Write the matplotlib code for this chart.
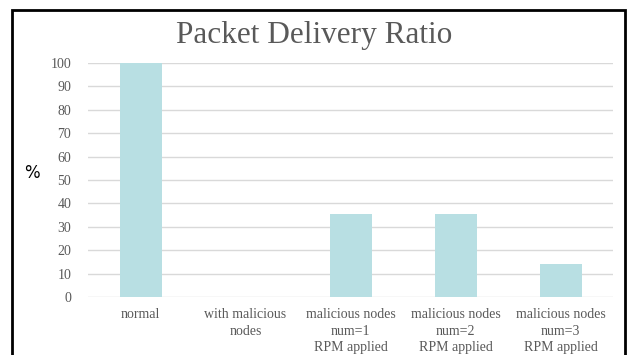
import matplotlib.pyplot as plt
from matplotlib.patches import Rectangle

# data
categories = ['normal', 'with malicious\nnodes', 'malicious nodes\nnum=1\nRPM applied',
              'malicious nodes\nnum=2\nRPM applied', 'malicious nodes\nnum=3\nRPM applied']
pdr = [100, 0, 35.5, 35.5, 14]
yticks = list(range(0, 101, 10))

W, H = 628, 355
fig = plt.figure(figsize=(W / 100, H / 100), dpi=100)
ax = fig.add_axes([88 / W, 1 - 297 / H, 525 / W, 234 / H])

# bars
ax.bar(range(len(pdr)), pdr, width=0.4, color='#b8dfe3', zorder=2)
ax.set_xlim(-0.5, len(pdr) - 0.5)
ax.set_ylim(0, 100)
ax.set_yticks(yticks)
ax.set_xticks(range(len(categories)))
ax.set_xticklabels(categories, family='Liberation Serif', fontsize=10, color='#595959',
                   linespacing=1.35)
for lab in ax.get_yticklabels():
    lab.set_family('Liberation Serif')
    lab.set_fontsize(10)
    lab.set_color('#595959')
ax.tick_params(length=0, pad=12)
ax.tick_params(axis='x', pad=8)
ax.grid(axis='y', color='#d9d9d9', linewidth=1, zorder=0)
for s in ax.spines.values():
    s.set_visible(False)

fig.text(0.5, 1 - 35 / H, 'Packet Delivery Ratio', ha='center', va='center',
         family='Liberation Serif', fontsize=22.5, color='#595959')
fig.text(32 / W, 1 - 173 / H, '%', ha='center', va='center', fontsize=12, color='black')

# outer frame
fig.patches.append(Rectangle((12 / W, -0.05), 613 / W, 1.05 - 10 / H, transform=fig.transFigure,
                             fill=False, edgecolor='black', linewidth=2))

fig.savefig('out.png', dpi=100)
